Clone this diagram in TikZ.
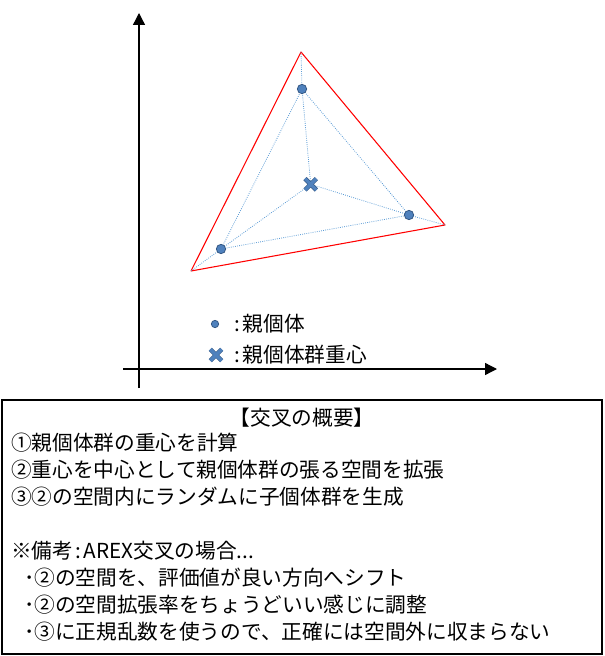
\documentclass[tikz,border=0pt]{standalone}
\usepackage{fontspec}
\newfontfamily\jpfont{Noto Sans CJK JP}
\usetikzlibrary{arrows.meta, shapes.misc}
\definecolor{parent}{RGB}{79,129,189}
\definecolor{parentedge}{RGB}{52,88,132}
\definecolor{spanline}{RGB}{91,155,213}
\definecolor{expand}{RGB}{255,0,0}
\newcommand{\sepcolon}{\hspace{1.5pt}:\hspace{2pt}}

\begin{document}
\begin{tikzpicture}[x=0.75pt, y=-0.75pt]
        % Define styles
        \tikzstyle{axis} = [-{Triangle[length=9pt, width=9pt]}, line width=1pt]
        \tikzstyle{parentdot} = [circle, fill=parent, draw=parentedge, line width=0.6pt, inner sep=0pt, minimum size=7pt]
        \tikzstyle{centroid} = [cross out, draw=parentedge, double=parent, double distance=2.4pt, line width=0.5pt, inner sep=0pt, minimum size=8pt]
        \tikzstyle{span} = [spanline, densely dotted, line width=0.6pt]
        \tikzstyle{label} = [anchor=west, inner sep=0pt, font=\jpfont\fontsize{15.5pt}{18pt}\selectfont]

        \useasboundingbox (0,0) rectangle (604,656);

        % Axes
        \coordinate (ybot) at (139,388);
        \coordinate (ytop) at (139,13);
        \coordinate (xleft) at (123,369);
        \coordinate (xright) at (497,369);
        \draw[axis] (ybot) -- (ytop);
        \draw[axis] (xleft) -- (xright);

        % Parents, centroid and expanded space
        \coordinate (p1) at (302,89);
        \coordinate (p2) at (409,215);
        \coordinate (p3) at (221,249);
        \coordinate (g) at (310.7,184.3);
        \coordinate (r1) at (301,52);
        \coordinate (r2) at (445,225);
        \coordinate (r3) at (191,271);

        \draw[expand, line width=0.8pt, line join=round] (r1) -- (r2) -- (r3) -- cycle;

        \draw[span] (p1) -- (p2) -- (p3) -- cycle;
        \draw[span] (p1) -- (g);
        \draw[span] (p2) -- (g);
        \draw[span] (p3) -- (g);
        \draw[span] (p1) -- (r1);
        \draw[span] (p2) -- (r2);
        \draw[span] (p3) -- (r3);

        \node[parentdot] (d1) at (p1) {};
        \node[parentdot] (d2) at (p2) {};
        \node[parentdot] (d3) at (p3) {};
        \node[centroid] (gc) at (g) {};

        % Legend
        \node[parentdot, minimum size=5.5pt] (legdot) at (215,324) {};
        \node[label] (legdottxt) at (232,324) {\sepcolon 親個体};
        \node[centroid] (legcross) at (216,355) {};
        \node[label] (legcrosstxt) at (232,355) {\sepcolon 親個体群重心};

        % Summary box
        \coordinate (boxnw) at (2,400);
        \coordinate (boxse) at (602,654);
        \draw[line width=1.5pt] (boxnw) rectangle (boxse);

        \node[label, anchor=center] (title) at (302,418) {【交叉の概要】};
        \node[label] (s1) at (11,443) {①親個体群の重心を計算};
        \node[label] (s2) at (11,470) {②重心を中心として親個体群の張る空間を拡張};
        \node[label] (s3) at (11,497) {③②の空間内にランダムに子個体群を生成};
        \node[label] (n0) at (11,551) {※備考\sepcolon AREX交叉の場合...};
        \node[label] (n1) at (24,578) {･②の空間を、評価値が良い方向へシフト};
        \node[label] (n2) at (24,605) {･②の空間拡張率をちょうどいい感じに調整};
        \node[label] (n3) at (24,632) {･③に正規乱数を使うので、正確には空間外に収まらない};

    \end{tikzpicture}
\end{document}
